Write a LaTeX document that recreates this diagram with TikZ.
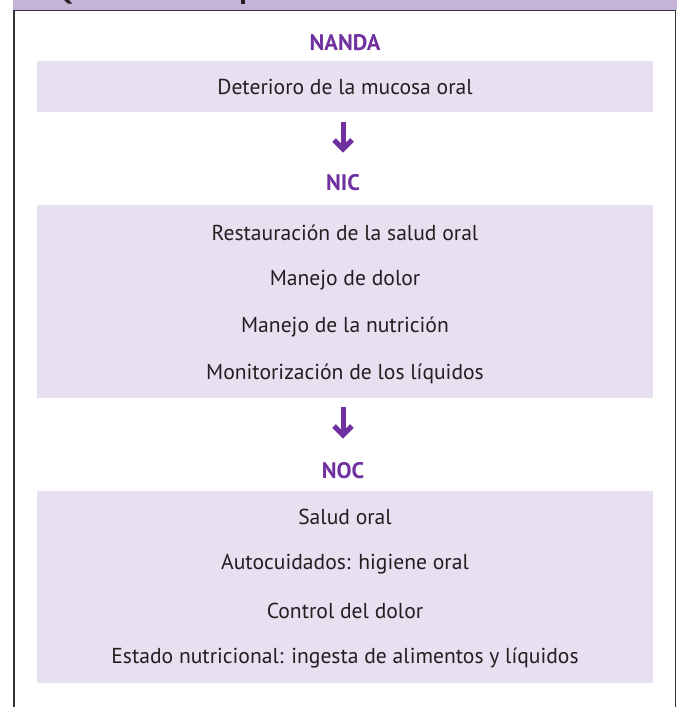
\documentclass[tikz,border=0pt]{standalone}
\usepackage{fontspec}
\setmainfont{PT Sans}
\definecolor{hdr}{HTML}{C5B3D8}
\definecolor{boxfill}{HTML}{E6E0F0}
\definecolor{purp}{HTML}{7030A0}
\definecolor{txt}{HTML}{231F20}
\definecolor{frm}{HTML}{333333}
\tikzset{
  panel/.style={fill=boxfill, draw=none, inner sep=0pt, minimum width=616pt},
  item/.style={text=txt, font=\fontsize{21.6}{24}\selectfont, inner sep=0pt},
  lab/.style={text=purp, font=\bfseries\fontsize{22.5}{26}\selectfont, inner sep=0pt},
  bigarrow/.style={draw=purp, line width=5pt, line join=miter},
}
\begin{document}
\begin{tikzpicture}[x=1pt,y=-1pt]
\useasboundingbox (0,0) rectangle (678,707);
% header bar and frame
\fill[hdr] (12.7,0) rectangle (677,9.6);
\fill[txt] (64,0) -- (69,0) -- (72,3.5) -- (68,3.5) -- cycle;
\fill[txt] (241,0) rectangle (245,4.3);
\draw[frm, line width=1.6pt] (14,712) -- (14,10.5) -- (675.5,10.5) -- (675.5,712);
% panels
\node[panel, minimum height=51pt] (pnanda) at (345,86.5) {};
\node[panel, minimum height=193pt] (pnic) at (345,301.5) {};
\node[panel, minimum height=192pt] (pnoc) at (345,587) {};
% labels
\node[lab] (lnanda) at (345,43) {NANDA};
\node[lab] (lnic) at (343,183) {NIC};
\node[lab] (lnoc) at (343,471) {NOC};
% items
\node[item] (n1) at (345,87) {Deterioro de la mucosa oral};
\node[item] (c1) at (345,233) {Restauración de la salud oral};
\node[item] (c2) at (345,280) {Manejo de dolor};
\node[item] (c3) at (345,327) {Manejo de la nutrición};
\node[item] (c4) at (345,374) {Monitorización de los líquidos};
\node[item] (o1) at (345,517) {Salud oral};
\node[item] (o2) at (345,564) {Autocuidados: higiene oral};
\node[item] (o3) at (345,611) {Control del dolor};
\node[item] (o4) at (345,658) {Estado nutricional: ingesta de alimentos y líquidos};
% arrows
\coordinate (a1s) at (343,122);
\coordinate (a1e) at (343,149);
\coordinate (a2s) at (343,407);
\coordinate (a2e) at (343,435);
\draw[bigarrow] (a1s) -- ([yshift=2pt]a1e);
\draw[bigarrow] ([xshift=-9pt,yshift=9pt]a1e) -- (a1e) -- ([xshift=9pt,yshift=9pt]a1e);
\draw[bigarrow] (a2s) -- ([yshift=2pt]a2e);
\draw[bigarrow] ([xshift=-9pt,yshift=9pt]a2e) -- (a2e) -- ([xshift=9pt,yshift=9pt]a2e);
\end{tikzpicture}
\end{document}
